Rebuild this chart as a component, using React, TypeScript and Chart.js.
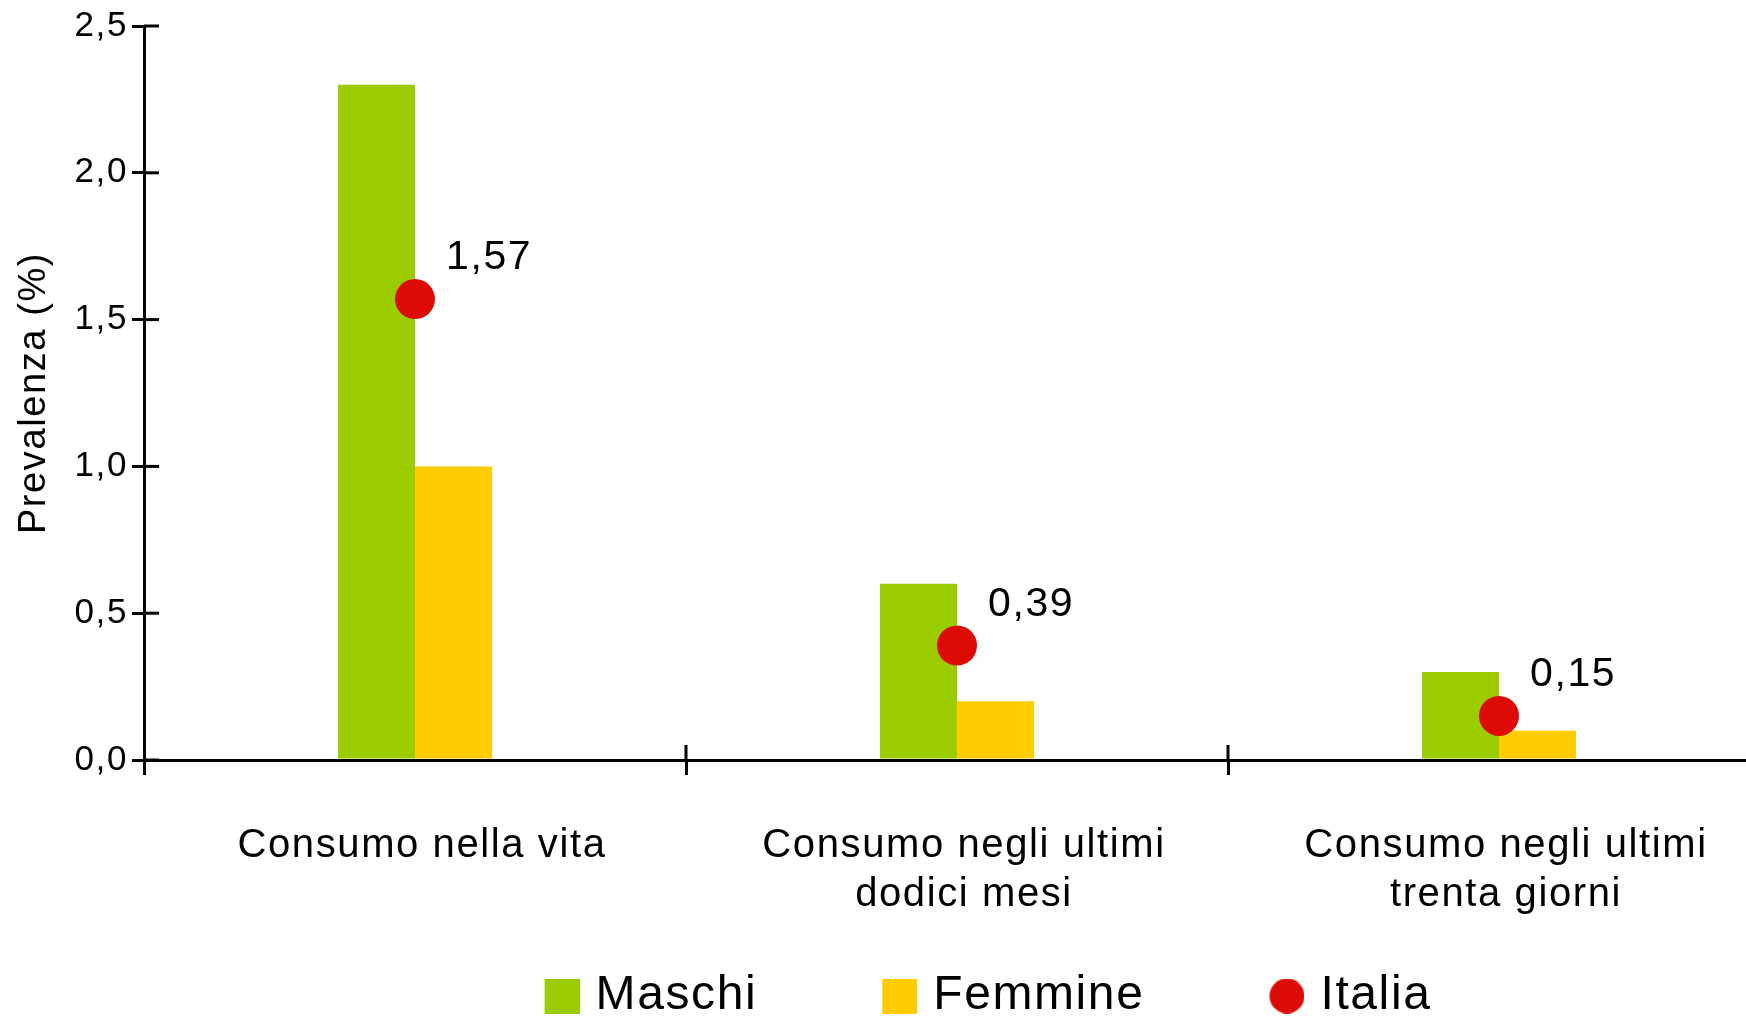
import { useEffect, useRef } from "react";
import { Chart, registerables } from "chart.js";

Chart.register(...registerables);

// ---- data ----
const categories: (string | string[])[] = [
  "Consumo nella vita",
  ["Consumo negli ultimi", "dodici mesi"],
  ["Consumo negli ultimi", "trenta giorni"],
];
const seriesNames = ["Maschi", "Femmine", "Italia"];
const maschi = [2.3, 0.6, 0.3];
const femmine = [1.0, 0.2, 0.1];
const italia = [1.57, 0.39, 0.15];
const yTicks = [0, 0.5, 1.0, 1.5, 2.0, 2.5];
const axisTitle = "Prevalenza (%)";

// ---- styles ----
const GREEN = "#9ACC00";
const YELLOW = "#FFCC00";
const RED = "#DD0A06";
const FONT = '"Liberation Sans", Arial, Helvetica, sans-serif';

const fmt = (v: number, d: number) => v.toFixed(d).replace(".", ",");

const spacingPlugin = {
  id: "spacing",
  beforeUpdate(chart: any) {
    chart.ctx.letterSpacing = "1.6px";
  },
  beforeDraw(chart: any) {
    chart.ctx.letterSpacing = "1.6px";
    // let the category labels extend below the axis box
    if (chart.scales.x) chart.scales.x._computeLabelArea = () => undefined;
  },
};

const legendShift = {
  id: "legendShift",
  afterUpdate(chart: any) {
    const lg = chart.legend;
    if (lg) {
      lg.left += 27;
      lg.right += 27;
    }
  },
};

const innerTicks = {
  id: "innerTicks",
  afterDraw(chart: any) {
    const { ctx, chartArea, scales } = chart;
    const x = scales.x;
    const y = scales.y;
    ctx.save();
    ctx.strokeStyle = "#000";
    ctx.lineWidth = 3;
    y.ticks.forEach((_: any, i: number) => {
      const py = y.getPixelForTick(i);
      ctx.beginPath();
      ctx.moveTo(chartArea.left, py);
      ctx.lineTo(chartArea.left + 15, py);
      ctx.stroke();
    });
    const n = x.ticks.length;
    for (let i = 1; i <= n; i++) {
      const px =
        i < n ? (x.getPixelForTick(i - 1) + x.getPixelForTick(i)) / 2 : chartArea.right;
      ctx.beginPath();
      ctx.moveTo(px, chartArea.bottom - 15);
      ctx.lineTo(px, chartArea.bottom);
      ctx.stroke();
    }
    ctx.restore();
  },
};

const valueLabels = {
  id: "valueLabels",
  afterDatasetsDraw(chart: any) {
    const meta = chart.getDatasetMeta(2);
    const ctx = chart.ctx;
    ctx.save();
    ctx.font = `41px ${FONT}`;
    ctx.fillStyle = "#000";
    ctx.textAlign = "left";
    ctx.textBaseline = "middle";
    meta.data.forEach((pt: any, i: number) => {
      ctx.fillText(fmt(italia[i], 2), pt.x + 31, pt.y - 41);
    });
    ctx.restore();
  },
};

// legend marker image: shape of 35px drawn at the right part of a wider transparent image
function markerImage(color: string, circle: boolean) {
  const c = document.createElement("canvas");
  c.width = 51;
  c.height = 35;
  const g = c.getContext("2d")!;
  g.fillStyle = color;
  if (circle) {
    g.beginPath();
    g.arc(16 + 17.5, 17.5, 17.5, 0, Math.PI * 2);
    g.fill();
  } else {
    g.fillRect(16, 0, 35, 35);
  }
  return c;
}

export default function App() {
  const ref = useRef<HTMLCanvasElement>(null);

  useEffect(() => {
    const canvas = ref.current!;
    Chart.defaults.font.family = FONT;
    Chart.defaults.color = "#000";

    const markers = [markerImage(GREEN, false), markerImage(YELLOW, false), markerImage(RED, true)];

    const chart = new Chart(canvas, {
      type: "bar",
      data: {
        labels: categories as any,
        datasets: [
          {
            type: "bar",
            label: seriesNames[0],
            data: maschi,
            backgroundColor: GREEN,
            borderWidth: 0,
            categoryPercentage: 0.284,
            barPercentage: 1,
            order: 1,
          },
          {
            type: "bar",
            label: seriesNames[1],
            data: femmine,
            backgroundColor: YELLOW,
            borderWidth: 0,
            categoryPercentage: 0.284,
            barPercentage: 1,
            order: 1,
          },
          {
            type: "line",
            label: seriesNames[2],
            data: italia,
            showLine: false,
            pointStyle: "circle",
            pointRadius: 20,
            pointHoverRadius: 20,
            pointBorderWidth: 0,
            backgroundColor: RED,
            borderColor: RED,
            borderWidth: 0,
            order: 0,
          } as any,
        ],
      },
      options: {
        responsive: false,
        animation: false,
        layout: { padding: { top: 26, right: 18, left: 0, bottom: 0 } },
        scales: {
          x: {
            offset: true,
            grid: {
              display: true,
              drawOnChartArea: false,
              drawTicks: true,
              tickLength: 15,
              color: "#000",
              lineWidth: 3,
              offset: true,
            },
            border: { display: true, color: "#000", width: 3 },
            ticks: {
              font: { size: 40, lineHeight: 1.22 },
              color: "#000",
              padding: 47,
              labelOffset: 7,
              maxRotation: 0,
              autoSkip: false,
            },
            afterFit: (s: any) => {
              s.height = 95;
            },
          },
          y: {
            min: yTicks[0],
            max: yTicks[yTicks.length - 1],
            grid: {
              display: true,
              drawOnChartArea: false,
              drawTicks: true,
              tickLength: 12,
              color: "#000",
              lineWidth: 3,
            },
            border: { display: true, color: "#000", width: 3 },
            ticks: {
              stepSize: yTicks[1] - yTicks[0],
              font: { size: 35 },
              color: "#000",
              padding: 4,
              callback: (v: any) => fmt(Number(v), 1),
            },
            title: {
              display: true,
              text: axisTitle,
              font: { size: 38 },
              color: "#000",
              padding: { top: 12, bottom: 0 },
            },
            afterFit: (s: any) => {
              s.width = 144;
            },
          },
        },
        plugins: {
          tooltip: { enabled: false },
          legend: {
            position: "bottom",
            fullSize: false,
            labels: {
              usePointStyle: true,
              pointStyleWidth: 35,
              boxWidth: 35,
              boxHeight: 35,
              padding: 117,
              color: "#000",
              font: { size: 48 },
              sort: (a: any, b: any) => a.datasetIndex - b.datasetIndex,
              generateLabels: (c: any) =>
                (Chart.defaults.plugins.legend.labels as any)
                  .generateLabels(c)
                  .map((it: any) => ({
                    ...it,
                    pointStyle: markers[it.datasetIndex],
                    lineWidth: 0,
                  })),
            },
          },
        },
      } as any,
      plugins: [spacingPlugin, legendShift, innerTicks, valueLabels],
    });

    return () => chart.destroy();
  }, []);

  return (
    <div
      style={{
        position: "fixed",
        left: 0,
        top: 0,
        width: 1746,
        height: 1019,
        overflow: "hidden",
        background: "#fff",
      }}
    >
      <canvas ref={ref} width={1790} height={1030} style={{ display: "block" }} />
    </div>
  );
}
